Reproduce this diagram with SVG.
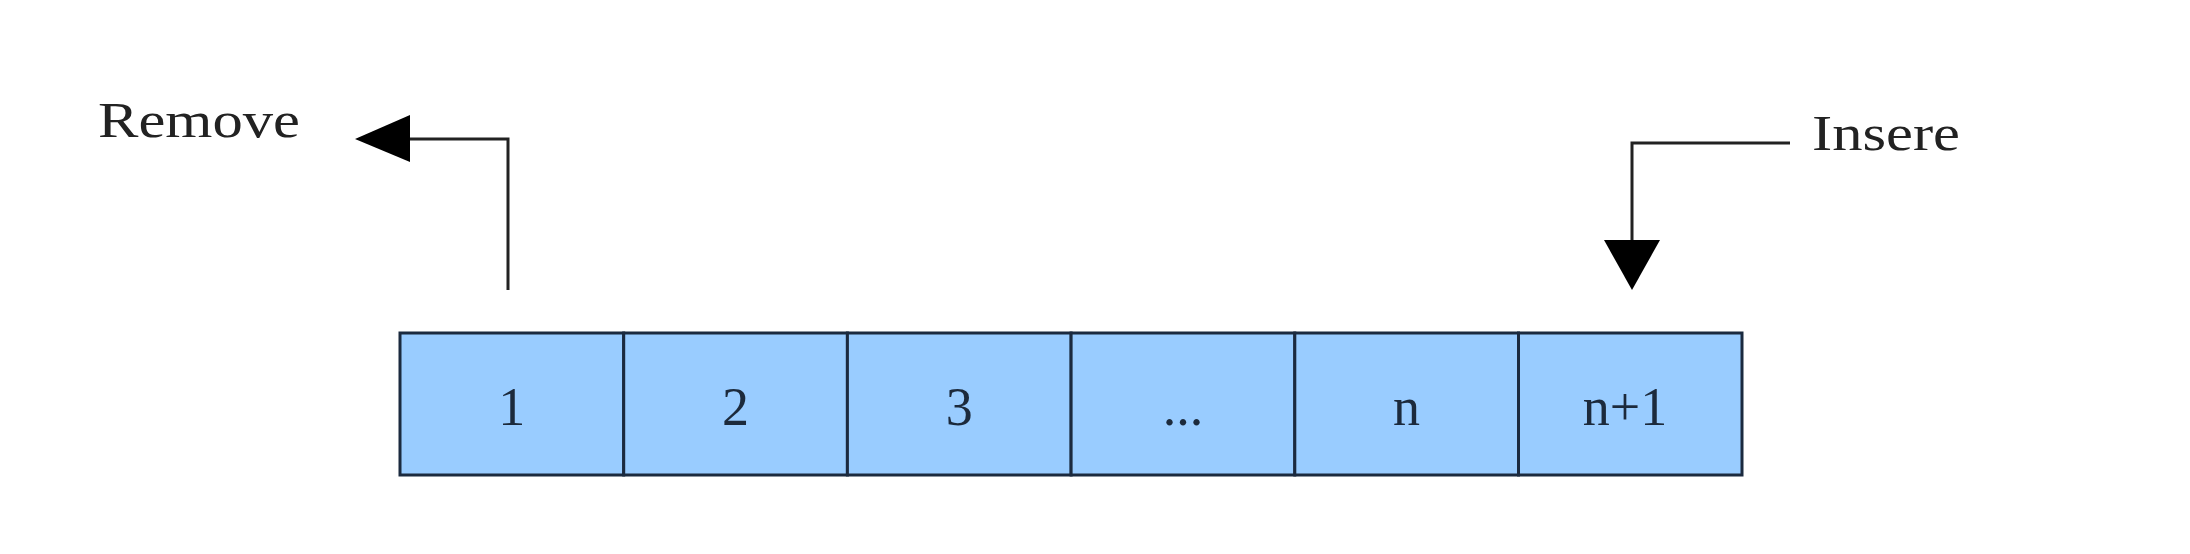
<svg xmlns="http://www.w3.org/2000/svg" width="2190" height="554" viewBox="0 0 2190 554">
<style>
.cell{fill:#99ccff;stroke:#1b2a3f;stroke-width:3}
.ct{font-family:"Liberation Serif",serif;font-size:54px;fill:#1c2a3c;text-anchor:middle}
.lbl{font-family:"Liberation Serif",serif;font-size:50px;fill:#222}
.conn{fill:none;stroke:#222;stroke-width:3}
.head{fill:#000}
</style>
<rect width="2190" height="554" fill="#fff"/>
<g id="cell1"><rect class="cell" x="400" y="333" width="223.7" height="142"/><text class="ct" x="511.8" y="425">1</text></g>
<g id="cell2"><rect class="cell" x="623.7" y="333" width="223.7" height="142"/><text class="ct" x="735.5" y="425">2</text></g>
<g id="cell3"><rect class="cell" x="847.4" y="333" width="223.7" height="142"/><text class="ct" x="959.2" y="425">3</text></g>
<g id="cell4"><rect class="cell" x="1071.1" y="333" width="223.7" height="142"/><text class="ct" x="1182.9" y="425">...</text></g>
<g id="cell5"><rect class="cell" x="1294.8" y="333" width="223.7" height="142"/><text class="ct" x="1406.6" y="425">n</text></g>
<g id="cell6"><rect class="cell" x="1518.5" y="333" width="223.5" height="142"/><text class="ct" x="1625" y="425">n+1</text></g>
<g id="remove"><text class="lbl" x="98" y="137" textLength="202" lengthAdjust="spacingAndGlyphs">Remove</text></g>
<g id="insere"><text class="lbl" x="1812" y="150" textLength="148" lengthAdjust="spacingAndGlyphs">Insere</text></g>
<g id="connectors">
<path class="conn" d="M508 290 V139 H405"/>
<polygon class="head" points="355,139 410,115 410,162"/>
<path class="conn" d="M1790 143 H1632 V245"/>
<polygon class="head" points="1632,290 1604,240 1660,240"/>
</g>
</svg>
